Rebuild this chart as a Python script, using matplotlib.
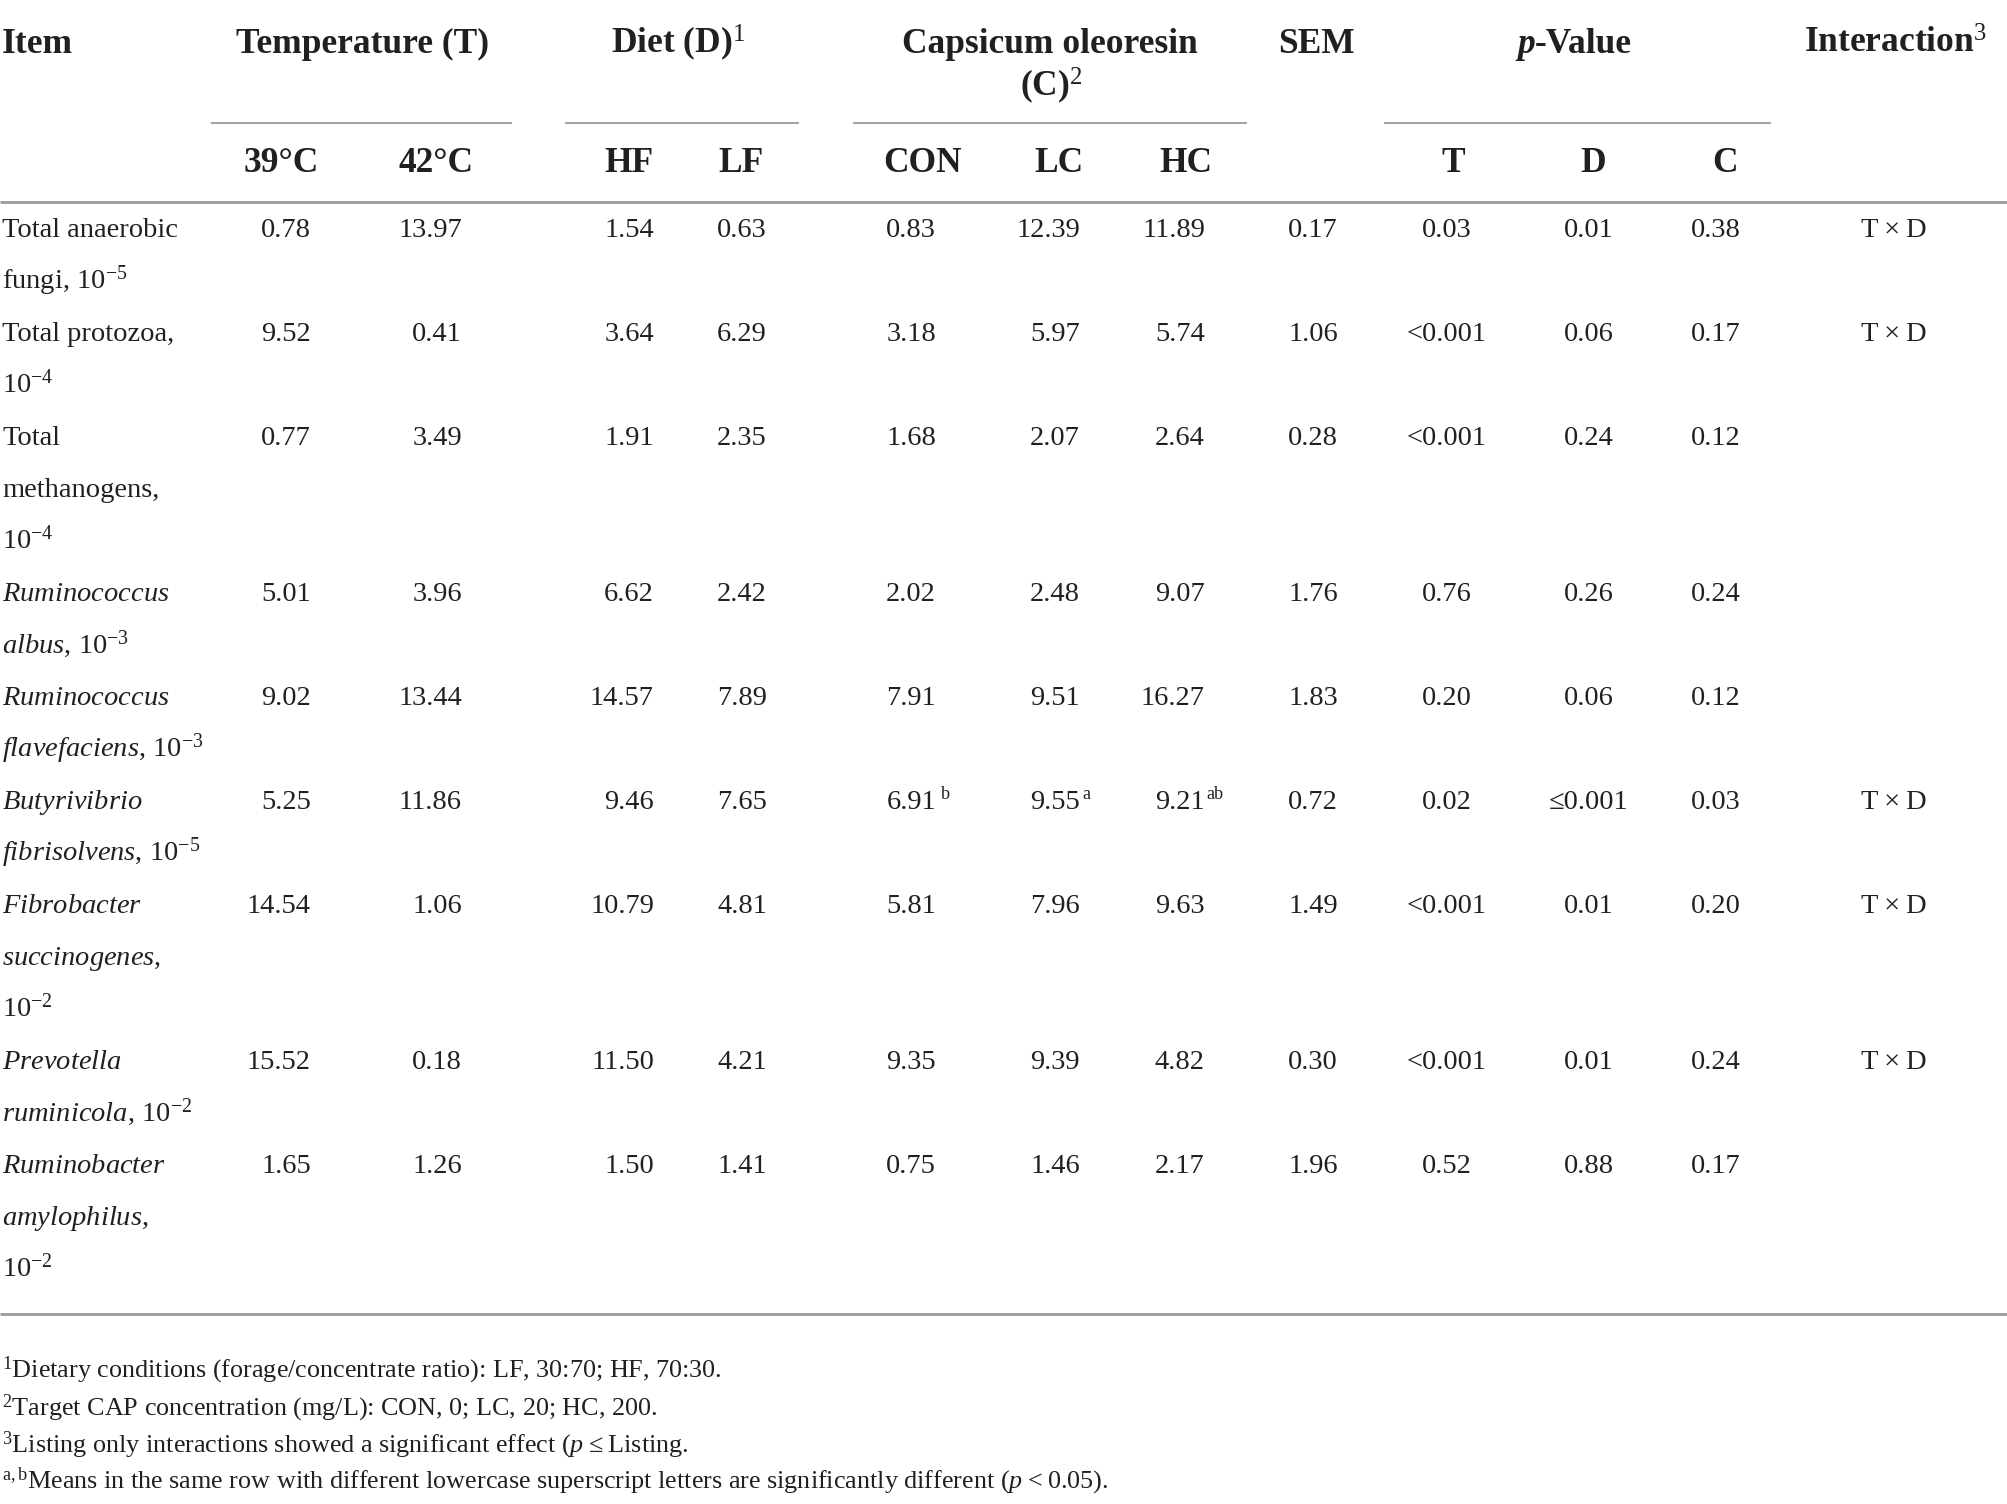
import matplotlib
matplotlib.use("Agg")
import matplotlib.pyplot as plt

plt.rcParams['font.family'] = ['Liberation Serif', 'DejaVu Serif']
plt.rcParams['mathtext.fontset'] = 'custom'
plt.rcParams['mathtext.rm'] = 'Liberation Serif'
plt.rcParams['mathtext.it'] = 'Liberation Serif:italic'
plt.rcParams['mathtext.bf'] = 'Liberation Serif:bold'

# ---------------- data ----------------
items = [
    ["Total anaerobic", "fungi, 10$^{-5}$"],
    ["Total protozoa,", "10$^{-4}$"],
    ["Total", "methanogens,", "10$^{-4}$"],
    ["$\\mathit{Ruminococcus}$", "$\\mathit{albus}$, 10$^{-3}$"],
    ["$\\mathit{Ruminococcus}$", "$\\mathit{flavefaciens}$, 10$^{-3}$"],
    ["$\\mathit{Butyrivibrio}$", "$\\mathit{fibrisolvens}$, 10$^{-5}$"],
    ["$\\mathit{Fibrobacter}$", "$\\mathit{succinogenes}$,", "10$^{-2}$"],
    ["$\\mathit{Prevotella}$", "$\\mathit{ruminicola}$, 10$^{-2}$"],
    ["$\\mathit{Ruminobacter}$", "$\\mathit{amylophilus}$,", "10$^{-2}$"],
]
t39 = ["0.78", "9.52", "0.77", "5.01", "9.02", "5.25", "14.54", "15.52", "1.65"]
t42 = ["13.97", "0.41", "3.49", "3.96", "13.44", "11.86", "1.06", "0.18", "1.26"]
hf = ["1.54", "3.64", "1.91", "6.62", "14.57", "9.46", "10.79", "11.50", "1.50"]
lf = ["0.63", "6.29", "2.35", "2.42", "7.89", "7.65", "4.81", "4.21", "1.41"]
con = ["0.83", "3.18", "1.68", "2.02", "7.91", "6.91", "5.81", "9.35", "0.75"]
lc = ["12.39", "5.97", "2.07", "2.48", "9.51", "9.55", "7.96", "9.39", "1.46"]
hc = ["11.89", "5.74", "2.64", "9.07", "16.27", "9.21", "9.63", "4.82", "2.17"]
con_sup = ["", "", "", "", "", "b", "", "", ""]
lc_sup = ["", "", "", "", "", "a", "", "", ""]
hc_sup = ["", "", "", "", "", "ab", "", "", ""]
sem = ["0.17", "1.06", "0.28", "1.76", "1.83", "0.72", "1.49", "0.30", "1.96"]
p_t = ["0.03", "<0.001", "<0.001", "0.76", "0.20", "0.02", "<0.001", "<0.001", "0.52"]
p_d = ["0.01", "0.06", "0.24", "0.26", "0.06", "\u22640.001", "0.01", "0.01", "0.88"]
p_c = ["0.38", "0.17", "0.12", "0.24", "0.12", "0.03", "0.20", "0.24", "0.17"]
interaction = ["T\u2009\u00d7\u2009D", "T\u2009\u00d7\u2009D", "", "", "", "T\u2009\u00d7\u2009D",
               "T\u2009\u00d7\u2009D", "T\u2009\u00d7\u2009D", ""]

group_headers = ["Temperature (T)", "Diet (D)$^{1}$", "Capsicum oleoresin", "SEM", "Interaction$^{3}$"]
sub_headers = ["39\u00b0C", "42\u00b0C", "HF", "LF", "CON", "LC", "HC", "T", "D", "C"]
footnotes = [
    "$^{1}$Dietary conditions (forage/concentrate ratio): LF, 30:70; HF, 70:30.",
    "$^{2}$Target CAP concentration (mg/L): CON, 0; LC, 20; HC, 200.",
    "$^{3}$Listing only interactions showed a significant effect ($p$\u2009\u2264\u2009Listing.",
    "$^{\\mathrm{a,b}}$Means in the same row with different lowercase superscript letters are significantly different ($p$\u2009<\u20090.05).",
]

# ---------------- layout ----------------
W, H = 2008, 1504
fig = plt.figure(figsize=(W / 100, H / 100), dpi=100)
ax = fig.add_axes([0, 0, 1, 1])
ax.set_xlim(0, W)
ax.set_ylim(H, 0)
ax.axis("off")

TXT = "#231f20"
LINE = "#9a9a9a"
HS = 25.5    # header font size
BS = 20.5    # body font size
FS = 18.8    # footnote size

# header row
ax.text(2, 53, "Item", fontsize=HS, fontweight="bold", color=TXT, ha="left", va="baseline")
ax.text(363, 53, group_headers[0], fontsize=HS, fontweight="bold", color=TXT, ha="center", va="baseline")
ax.text(611, 53, group_headers[1], fontsize=HS, fontweight="bold", color=TXT, ha="left", va="baseline")
ax.text(1050, 53, group_headers[2], fontsize=HS, fontweight="bold", color=TXT, ha="center", va="baseline")
ax.text(1020, 96, "(C)$^{2}$", fontsize=HS, fontweight="bold", color=TXT, ha="left", va="baseline")
ax.text(1316, 53, group_headers[3], fontsize=HS, fontweight="bold", color=TXT, ha="center", va="baseline")
ax.text(1535, 53, "p", fontsize=HS, fontweight="bold", fontstyle="italic", color=TXT, ha="right", va="baseline")
ax.text(1535, 53, "-Value", fontsize=HS, fontweight="bold", color=TXT, ha="left", va="baseline")
ax.text(1804, 53, group_headers[4], fontsize=HS, fontweight="bold", color=TXT, ha="left", va="baseline")

# group underlines
for x0, x1 in [(211, 512), (565, 799), (853, 1247), (1384, 1771)]:
    ax.plot([x0, x1], [123, 123], color=LINE, lw=1.3, solid_capstyle="butt")

# sub headers
sub_x = [281, 436, 629, 741, 923, 1059, 1186, 1453, 1593, 1725]
for sx, s in zip(sub_x, sub_headers):
    ax.text(sx, 172, s, fontsize=HS, fontweight="bold", color=TXT, ha="center", va="baseline")

# rules
ax.plot([0, W], [202, 202], color=LINE, lw=2.0, solid_capstyle="butt")
ax.plot([0, W], [1314, 1314], color=LINE, lw=2.0, solid_capstyle="butt")

# body
BASE0 = 237
PITCH = 52
right_cols = [(311, t39), (462, t42), (654, hf), (767, lf), (936, con), (1080, lc), (1205, hc), (1338, sem)]
center_cols = [(1447, p_t), (1589, p_d), (1716, p_c), (1894, interaction)]
sups = [(936, 5, con_sup), (1080, 2, lc_sup), (1205, 1, hc_sup)]

k = 0
for i, lines in enumerate(items):
    yb = BASE0 + PITCH * k
    for j, ln in enumerate(lines):
        ax.text(2, BASE0 + PITCH * (k + j), ln, fontsize=BS, color=TXT, ha="left", va="baseline")
    for x, col in right_cols:
        ax.text(x, yb, col[i], fontsize=BS, color=TXT, ha="right", va="baseline")
    for x, col in center_cols:
        if col[i]:
            ax.text(x, yb, col[i], fontsize=BS, color=TXT, ha="center", va="baseline")
    for x, gap, col in sups:
        if col[i]:
            ax.text(x + gap, yb - 10, col[i], fontsize=13, color=TXT, ha="left", va="baseline")
    k += len(lines)

# footnotes
for fy, fn in zip([1377, 1415, 1452, 1488], footnotes):
    ax.text(2, fy, fn, fontsize=FS, color=TXT, ha="left", va="baseline")

fig.savefig("out.png", dpi=100, facecolor="white")
